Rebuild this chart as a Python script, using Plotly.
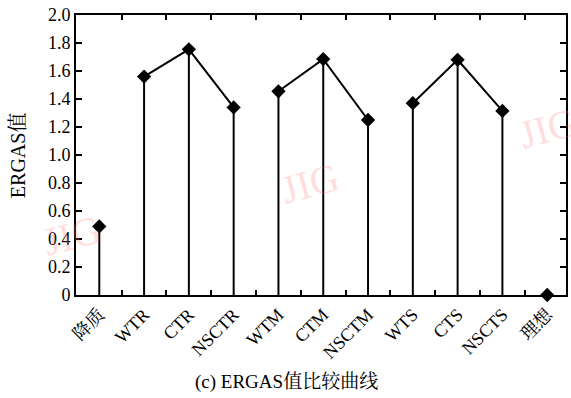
import plotly.graph_objects as go

categories = ["降质", "WTR", "CTR", "NSCTR", "WTM", "CTM", "NSCTM", "WTS", "CTS", "NSCTS", "理想"]
values = [0.49, 1.56, 1.755, 1.34, 1.455, 1.685, 1.25, 1.37, 1.68, 1.315, 0.0]
groups = [[1, 2, 3], [4, 5, 6], [7, 8, 9]]
y_ticks = [0, 0.2, 0.4, 0.6, 0.8, 1.0, 1.2, 1.4, 1.6, 1.8, 2.0]
y_ticktext = ["0", "0.2", "0.4", "0.6", "0.8", "1.0", "1.2", "1.4", "1.6", "1.8", "2.0"]

xs = list(range(1, len(categories) + 1))
serif = "Liberation Serif, Times New Roman, Noto Serif CJK SC, Noto Sans CJK SC, serif"

fig = go.Figure()

# stems
for x, v in zip(xs, values):
    fig.add_trace(go.Scatter(x=[x, x], y=[0, v], mode="lines",
                             line=dict(color="black", width=2), showlegend=False, hoverinfo="skip"))
# group connecting lines
for g in groups:
    fig.add_trace(go.Scatter(x=[xs[i] for i in g], y=[values[i] for i in g], mode="lines",
                             line=dict(color="black", width=2), showlegend=False, hoverinfo="skip"))
# markers
fig.add_trace(go.Scatter(x=xs, y=values, mode="markers",
                         marker=dict(symbol="diamond", size=11, color="black"),
                         showlegend=False, cliponaxis=False))

xr = [0.48, 11.42]
half = [i + 0.5 for i in xs[:-1]]
fig.update_layout(
    width=571, height=398,
    margin=dict(l=76, r=5, t=15, b=103, autoexpand=False),
    paper_bgcolor="white", plot_bgcolor="white",
    font=dict(family=serif, size=18, color="black"),
    xaxis=dict(range=xr, tickmode="array", tickvals=xs, ticktext=categories,
               tickangle=-45, ticks="", showline=True, linecolor="black", linewidth=2,
               mirror=True, showgrid=False, zeroline=False, tickfont=dict(size=18),
               automargin=False),
    xaxis2=dict(range=xr, overlaying="x", side="bottom", tickmode="array",
                tickvals=half, ticks="inside", ticklen=5, tickwidth=1.5,
                tickcolor="black", showticklabels=False, showgrid=False, zeroline=False,
                showline=False, automargin=False),
    xaxis3=dict(range=xr, overlaying="x", side="top", tickmode="array",
                tickvals=half, ticks="inside", ticklen=5, tickwidth=1.5,
                tickcolor="black", showticklabels=False, showgrid=False, zeroline=False,
                showline=False, automargin=False),
    yaxis=dict(range=[0, 2.0], tickmode="array", tickvals=y_ticks, ticktext=y_ticktext,
               ticks="inside", ticklen=6, tickwidth=1.5, tickcolor="black",
               showline=True, linecolor="black", linewidth=2, mirror="ticks",
               showgrid=False, zeroline=False, tickfont=dict(size=18), automargin=False),
)

# dummy invisible traces so overlay axes render
fig.add_trace(go.Scatter(x=[1], y=[0], xaxis="x2", mode="markers", marker=dict(opacity=0),
                         showlegend=False, hoverinfo="skip"))
fig.add_trace(go.Scatter(x=[1], y=[0], xaxis="x3", mode="markers", marker=dict(opacity=0),
                         showlegend=False, hoverinfo="skip"))

# y axis title
fig.add_annotation(text="ERGAS值", xref="paper", yref="paper", x=-0.118, y=0.5,
                   textangle=-90, showarrow=False, font=dict(size=20, family=serif),
                   xanchor="center", yanchor="middle")
# caption
fig.add_annotation(text="(c) ERGAS值比较曲线", xref="paper", yref="paper", x=0.43, y=-0.311,
                   showarrow=False, font=dict(size=19, family=serif), xanchor="center", yanchor="middle")
# clipped title at top
fig.add_annotation(text="(b) SAM值比较曲线", xref="paper", yref="paper", x=0.5, y=1.0,
                   yshift=12, showarrow=False, font=dict(size=17, family=serif, color="#bbbbbb"),
                   xanchor="center", yanchor="bottom")
# watermarks
for (px, py) in [(-0.008, 0.214), (0.478, 0.40), (0.963, 0.596)]:
    fig.add_annotation(text="JIG", xref="paper", yref="paper", x=px, y=py, showarrow=False,
                       xanchor="center", yanchor="middle",
                       textangle=-15, font=dict(size=40, family=serif, color="rgba(255,120,120,0.25)"))

fig.write_html("out.html", config={"displayModeBar": False},
               post_script="document.body.style.margin='0';document.body.style.overflow='hidden';")
